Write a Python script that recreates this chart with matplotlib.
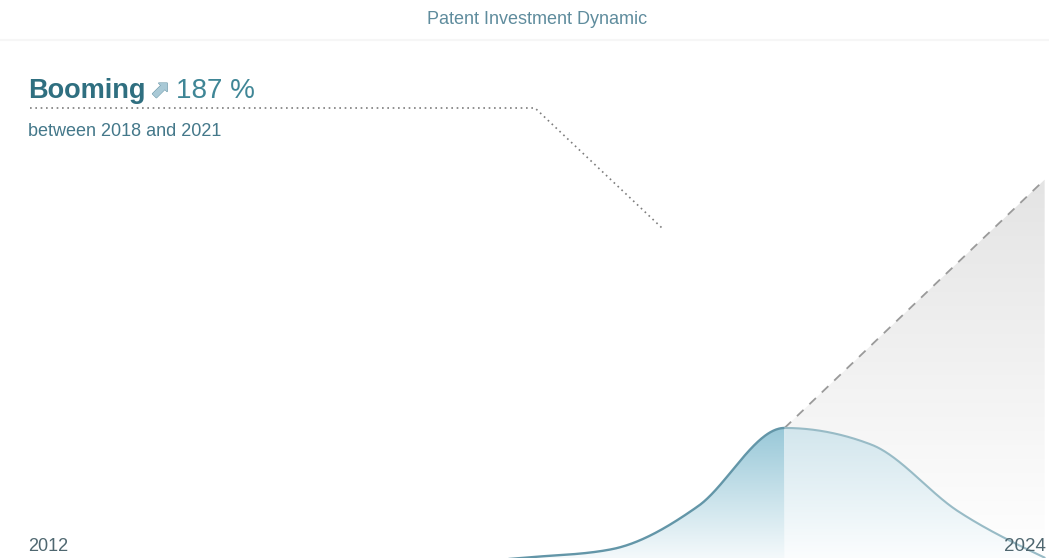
import numpy as np
import matplotlib
matplotlib.use("Agg")
import matplotlib.pyplot as plt
import matplotlib.patheffects as pe
from matplotlib.patches import Polygon
from matplotlib.colors import to_rgba

# ---- data -------------------------------------------------------------
years = [2012, 2013, 2014, 2015, 2016, 2017, 2018, 2019, 2020, 2021, 2022, 2023, 2024]
investment = [60, 62, 66, 72, 80, 90, 100, 112, 174, 287, 263, 167, 100]
trend_years = [2021, 2024]
trend_values = [287, 645]
growth_pct = 187
period_start, period_end = 2018, 2021

title = "Patent Investment Dynamic"

plt.rcParams["font.family"] = ["Liberation Sans", "DejaVu Sans"]


def monotone_curve(x, y, xn):
    """Steffen-style monotone cubic interpolation (smooth, no overshoot)."""
    x = np.asarray(x, float)
    y = np.asarray(y, float)
    h = np.diff(x)
    s = np.diff(y) / h
    m = np.zeros_like(y)
    for k in range(1, len(x) - 1):
        p = (s[k - 1] * h[k] + s[k] * h[k - 1]) / (h[k - 1] + h[k])
        m[k] = (np.sign(s[k - 1]) + np.sign(s[k])) * min(
            abs(s[k - 1]), abs(s[k]), 0.5 * abs(p))
    m[0] = (3 * s[0] - m[1]) / 2
    m[-1] = (3 * s[-1] - m[-2]) / 2
    idx = np.clip(np.searchsorted(x, xn) - 1, 0, len(x) - 2)
    t = (xn - x[idx]) / h[idx]
    h00 = 2 * t**3 - 3 * t**2 + 1
    h10 = t**3 - 2 * t**2 + t
    h01 = -2 * t**3 + 3 * t**2
    h11 = t**3 - t**2
    return (h00 * y[idx] + h10 * h[idx] * m[idx]
            + h01 * y[idx + 1] + h11 * h[idx] * m[idx + 1])


def gradient_fill(ax, verts, top_color, bottom_color, y_top, y_bot, x0, x1, z):
    poly = Polygon(verts, closed=True, facecolor="none", edgecolor="none")
    ax.add_patch(poly)
    c_top = np.array(to_rgba(top_color))
    c_bot = np.array(to_rgba(bottom_color))
    t = np.linspace(0, 1, 256)[:, None]
    img = (c_bot[None, :] * (1 - t) + c_top[None, :] * t)[:, None, :]
    im = ax.imshow(img, extent=[x0, x1, y_bot, y_top], origin="lower",
                   aspect="auto", interpolation="bilinear", zorder=z)
    im.set_clip_path(poly)


W, H = 1049, 558
fig = plt.figure(figsize=(W / 100, H / 100), dpi=100)
fig.patch.set_facecolor("white")
ax = fig.add_axes([0, 0, 1, 1])
ax.set_axis_off()

y_min, y_max = 99.5, 904.0
x_lo, x_hi = 2011.95, 2024.05

xs = np.linspace(years[0], years[-1], 1500)
ys = monotone_curve(years, investment, xs)
ys_c = np.maximum(ys, y_min)

peak_year = period_end
peak_val = investment[years.index(peak_year)]

# grey projection wedge
tv = [(trend_years[0], y_min), (trend_years[0], trend_values[0]),
      (trend_years[1], trend_values[1]), (trend_years[1], y_min)]
gradient_fill(ax, tv, "#e4e4e4", "#ffffff", trend_values[1], y_min,
              trend_years[0], trend_years[1], 1)

# area under the curve, split at the peak year
left = xs <= peak_year
right = xs >= peak_year
lv = [(xs[left][0], y_min)] + list(zip(xs[left], ys_c[left])) + [(peak_year, y_min)]
rv = [(peak_year, y_min)] + list(zip(xs[right], ys_c[right])) + [(xs[right][-1], y_min)]
gradient_fill(ax, lv, "#98c8d8", "#f4f9fb", peak_val, y_min,
              xs[left][0], peak_year, 2)
gradient_fill(ax, rv, "#d2e6ed", "#fbfdfe", peak_val, y_min,
              peak_year, xs[right][-1], 2)

# projection line
ax.plot(trend_years, trend_values, color="#9a9a9a", lw=1.3,
        linestyle=(0, (5, 4.5)), zorder=3)

# curve
ax.plot(xs[left], ys[left], color="#6396a8", lw=1.7, zorder=4,
        solid_capstyle="round")
ax.plot(xs[right], ys[right], color="#98bbc6", lw=1.5, zorder=4,
        solid_capstyle="round")

ax.set_xlim(x_lo, x_hi)
ax.set_ylim(y_min, y_max)

# header
fig.text(537 / W, 1 - 20 / H, title, ha="center", va="center",
         fontsize=13, color="#5f8c9d")
fig.add_artist(plt.Line2D([0, 1], [1 - 40 / H, 1 - 40 / H],
                          color="#f6f6f6", lw=1.5, transform=fig.transFigure))

# headline
base = 1 - 98 / H
t1 = fig.text(28 / W, base, "Booming", ha="left", va="baseline",
              fontsize=19.5, fontweight="bold", color="#2f6f80")
fig.canvas.draw()
r = fig.canvas.get_renderer()
bb = t1.get_window_extent(r)
t2 = fig.text((bb.x1 + 5) / W, base + 1 / H, "\u2b08", ha="left", va="baseline",
              fontsize=17, color="#a9c9d6", family=["DejaVu Sans"],
              path_effects=[pe.withStroke(linewidth=1.0, foreground="#6f9aab"),
                            pe.Normal()])
bb2 = t2.get_window_extent(r)
fig.text((bb2.x1 + 6) / W, base, f"{growth_pct} %", ha="left",
         va="baseline", fontsize=20, color="#3f8696")
fig.text(28 / W, 1 - 136 / H, f"between {period_start} and {period_end}",
         ha="left", va="baseline", fontsize=13, color="#44788a")

# leader line
lx = np.array([30, 535, 662]) / W
ly = 1 - np.array([108, 108, 228]) / H
fig.add_artist(plt.Line2D(lx, ly, color="#7d7d7d", lw=1.2,
                          linestyle=(0, (1, 2.2)), transform=fig.transFigure))

# year labels
fig.text(28 / W, 1 - 551 / H, str(years[0]), ha="left", va="baseline",
         fontsize=13, color="#4f6770")
fig.text(1046 / W, 1 - 551 / H, str(years[-1]), ha="right", va="baseline",
         fontsize=13.5, color="#4f6770")

fig.savefig("out.png", dpi=100, facecolor="white")
